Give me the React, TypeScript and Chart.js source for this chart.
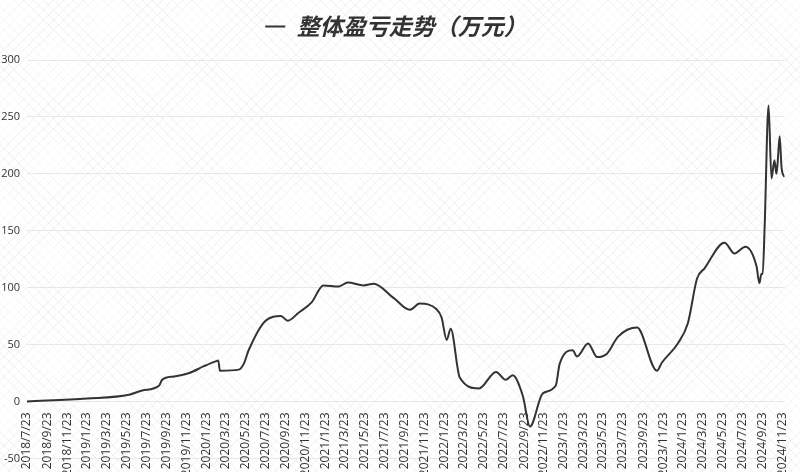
import React, { useEffect, useRef } from "react";
import { Chart, registerables } from "chart.js";

Chart.register(...registerables);

const seriesName = "整体盈亏走势（万元）";

const dates = [
  "2018/7/23", "2019/1/23", "2019/6/1", "2019/7/11", "2019/9/1", "2019/9/10",
  "2019/10/17", "2019/12/2", "2020/1/16", "2020/2/23", "2020/2/29", "2020/3/5",
  "2020/5/2", "2020/5/17", "2020/6/1", "2020/7/23", "2020/9/8", "2020/9/29",
  "2020/11/1", "2020/12/11", "2021/1/16", "2021/3/4", "2021/4/1", "2021/5/20",
  "2021/6/19", "2021/8/19", "2021/10/8", "2021/11/7", "2021/12/29", "2022/1/13",
  "2022/1/29", "2022/2/10", "2022/3/10", "2022/5/8", "2022/6/29", "2022/7/29",
  "2022/8/19", "2022/9/19", "2022/10/11", "2022/11/19", "2022/12/29", "2023/1/10",
  "2023/2/19", "2023/3/4", "2023/4/7", "2023/5/5", "2023/6/4", "2023/7/8",
  "2023/9/4", "2023/11/4", "2023/11/19", "2024/1/7", "2024/2/7", "2024/3/6",
  "2024/3/29", "2024/5/29", "2024/6/29", "2024/8/1", "2024/9/4", "2024/9/13",
  "2024/9/19", "2024/9/23", "2024/9/29", "2024/10/11", "2024/10/20", "2024/10/29",
  "2024/11/4", "2024/11/8", "2024/11/14", "2024/11/20", "2024/11/29",
];

const values = [
  0, 2.6, 6, 9.6, 14, 19,
  22, 25, 31, 35.5, 36, 27,
  28, 33, 45, 71, 75, 71,
  78, 87, 102, 101, 104.5, 102,
  103.5, 91, 80.5, 86, 81, 74,
  54, 64, 21, 11.5, 26, 19,
  23, 5, -22, 7, 14, 33,
  45, 39.5, 51, 39, 42, 57,
  65, 27, 34, 51, 69, 108,
  117, 139.5, 130, 136, 119, 104,
  112, 112, 153, 260, 196, 212,
  200, 210, 233, 205, 197,
];

const tickLabels = [
  "2018/7/23", "2018/9/23", "2018/11/23",
  "2019/1/23", "2019/3/23", "2019/5/23", "2019/7/23", "2019/9/23", "2019/11/23",
  "2020/1/23", "2020/3/23", "2020/5/23", "2020/7/23", "2020/9/23", "2020/11/23",
  "2021/1/23", "2021/3/23", "2021/5/23", "2021/7/23", "2021/9/23", "2021/11/23",
  "2022/1/23", "2022/3/23", "2022/5/23", "2022/7/23", "2022/9/23", "2022/11/23",
  "2023/1/23", "2023/3/23", "2023/5/23", "2023/7/23", "2023/9/23", "2023/11/23",
  "2024/1/23", "2024/3/23", "2024/5/23", "2024/7/23", "2024/9/23", "2024/11/23",
];

const yTicks = [-50, 0, 50, 100, 150, 200, 250, 300];

const toDay = (s: string) => {
  const [y, m, d] = s.split("/").map(Number);
  return Date.UTC(y, m - 1, d) / 86400000;
};

const legendSpacer = {
  id: "legendSpacer",
  beforeInit(chart: any) {
    const legend = chart.legend;
    if (!legend) return;
    const origFit = legend.fit;
    legend.fit = function () {
      origFit.call(this);
      this.height += 12;
    };
  },
};

export default function App() {
  const ref = useRef<HTMLCanvasElement | null>(null);

  useEffect(() => {
    if (!ref.current) return;
    const base = toDay(dates[0]);
    const points = dates.map((d, i) => ({ x: toDay(d) - base, y: values[i] }));
    const tickDays = tickLabels.map((t) => toDay(t) - base);
    const labelMap: Record<number, string> = {};
    tickLabels.forEach((t, i) => (labelMap[tickDays[i]] = t));
    const textColor = "#333";

    const chart = new Chart(ref.current, {
      type: "line",
      data: {
        datasets: [
          {
            label: seriesName,
            data: points,
            borderColor: "#333",
            backgroundColor: "#333",
            borderWidth: 2,
            pointRadius: 0,
            pointStyle: "line",
            cubicInterpolationMode: "monotone",
            fill: false,
          },
        ],
      },
      plugins: [legendSpacer],
      options: {
        animation: false,
        responsive: true,
        maintainAspectRatio: false,
        layout: { padding: { top: 3, right: 8, bottom: 12, left: 0 } },
        plugins: {
          tooltip: { enabled: false },
          legend: {
            display: true,
            position: "top",
            labels: {
              usePointStyle: true,
              pointStyle: "line",
              pointStyleWidth: 20,
              color: textColor,
              padding: 12,
              font: {
                family: '"Noto Sans CJK SC", "Open Sans", sans-serif',
                size: 23,
                weight: "bold",
                style: "italic",
              },
            },
          },
        },
        scales: {
          x: {
            type: "linear",
            position: { y: 0 },
            min: 0,
            max: points[points.length - 1].x,
            grid: { display: false },
            border: { display: false },
            afterBuildTicks: (scale: any) => {
              scale.ticks = tickDays.map((v) => ({ value: v }));
            },
            ticks: {
              autoSkip: false,
              maxRotation: 90,
              minRotation: 90,
              padding: 3,
              color: textColor,
              font: { family: '"Open Sans", sans-serif', size: 12 },
              callback: (v: any) => labelMap[v as number] ?? "",
            },
          },
          y: {
            min: -50,
            max: 300,
            afterBuildTicks: (scale: any) => {
              scale.ticks = yTicks.map((v) => ({ value: v }));
            },
            afterFit: (scale: any) => {
              scale.width = 27;
            },
            grid: { color: "#e8e8e8", drawTicks: false },
            border: { display: false },
            ticks: {
              padding: 7,
              color: textColor,
              font: { family: '"Open Sans", sans-serif', size: 11 },
            },
          },
        },
      },
    });
    return () => chart.destroy();
  }, []);

  return (
    <div
      style={{
        position: "fixed",
        left: 0,
        top: 0,
        width: 800,
        height: 472,
        backgroundColor: "#fff",
        backgroundImage:
          "repeating-linear-gradient(45deg, rgba(0,0,0,0.03) 0px, rgba(0,0,0,0.03) 1px, transparent 1px, transparent 7px), repeating-linear-gradient(-45deg, rgba(0,0,0,0.03) 0px, rgba(0,0,0,0.03) 1px, transparent 1px, transparent 7px)",
      }}
    >
      <canvas ref={ref} />
    </div>
  );
}
